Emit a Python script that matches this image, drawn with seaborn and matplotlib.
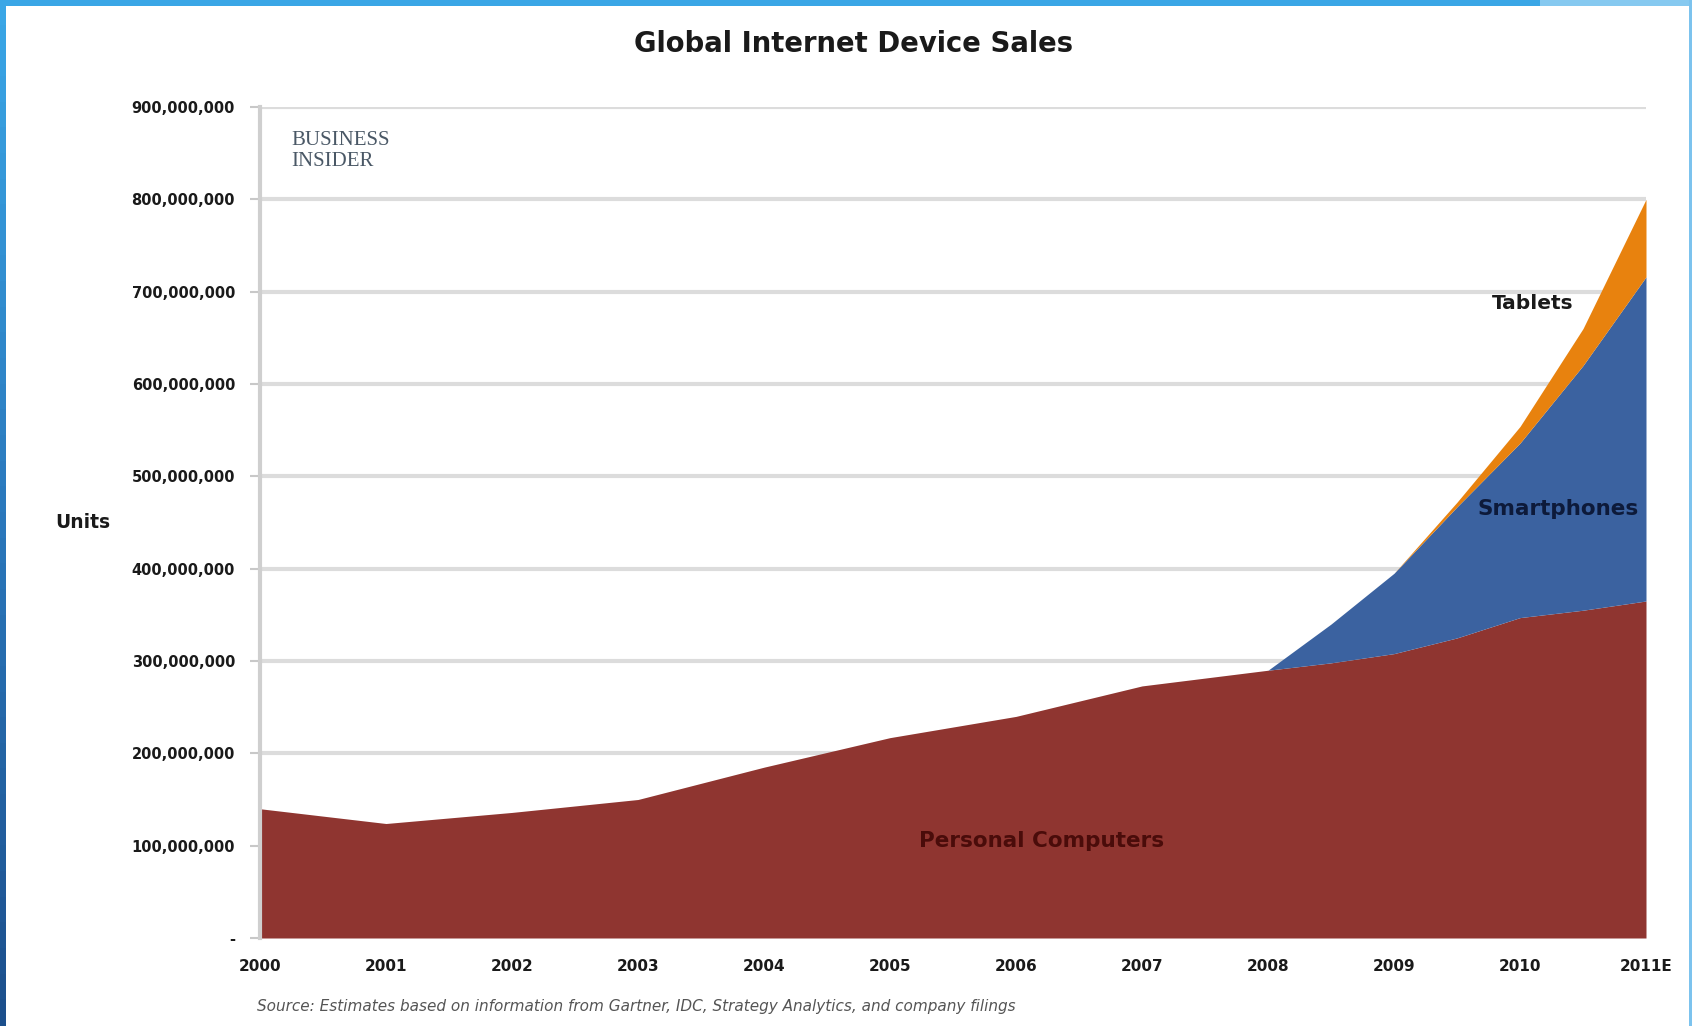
import matplotlib
matplotlib.use("Agg")
import matplotlib.pyplot as plt
from matplotlib.patches import Rectangle
import numpy as np
import pandas as pd
import seaborn as sns

# Units sold per period, in millions
years = [2000, 2001, 2002, 2003, 2004, 2005, 2006, 2007, 2008,
         2008.5, 2009, 2009.5, 2010, 2010.5, 2011]
personal_computers = [140, 124, 136, 150, 185, 217, 240, 273, 290,
                      298, 308, 325, 347, 355, 365]
smartphones = [0, 0, 0, 0, 0, 0, 0, 0, 0,
               42, 87, 142, 189, 265, 351]
tablets = [0, 0, 0, 0, 0, 0, 0, 0, 0,
           0, 0, 5, 18, 40, 84]

series_names = ["Personal Computers", "Smartphones", "Tablets"]
series_colors = ["#8f3530", "#3b62a0", "#e8820e"]

x_ticks = [2000, 2001, 2002, 2003, 2004, 2005, 2006, 2007, 2008, 2009, 2010, 2011]
x_tick_labels = ["2000", "2001", "2002", "2003", "2004", "2005", "2006",
                 "2007", "2008", "2009", "2010", "2011E"]
y_ticks = [0, 100e6, 200e6, 300e6, 400e6, 500e6, 600e6, 700e6, 800e6, 900e6]
y_tick_labels = ["-", "100,000,000", "200,000,000", "300,000,000", "400,000,000",
                 "500,000,000", "600,000,000", "700,000,000", "800,000,000",
                 "900,000,000"]

df = pd.DataFrame({
    "year": years,
    "Personal Computers": np.array(personal_computers) * 1e6,
    "Smartphones": np.array(smartphones) * 1e6,
    "Tablets": np.array(tablets) * 1e6,
})

sns.set_theme(style="white")
plt.rcParams["font.family"] = ["DejaVu Sans"]

W, H = 1692, 1026
fig = plt.figure(figsize=(W / 100, H / 100), dpi=100)
fig.patch.set_facecolor("white")

# slide frame
fig.patches.append(Rectangle((0, 1 - 6 / H), 1540 / W, 6 / H, transform=fig.transFigure,
                             facecolor="#3aa6e6", edgecolor="none", zorder=0))
fig.patches.append(Rectangle((1540 / W, 1 - 6 / H), 1 - 1540 / W, 6 / H, transform=fig.transFigure,
                             facecolor="#86c9f0", edgecolor="none", zorder=0))
n_strip = 40
left_cols = sns.blend_palette(["#3aa6e6", "#2a78bc", "#1c4f8c"], n_colors=n_strip)
for i, c in enumerate(left_cols):
    y0 = 1 - (i + 1) / n_strip
    fig.patches.append(Rectangle((0, y0), 6 / W, 1 / n_strip + 0.001, transform=fig.transFigure,
                                 facecolor=c, edgecolor="none", zorder=0))
fig.patches.append(Rectangle((1 - 3 / W, 0), 3 / W, 1, transform=fig.transFigure,
                             facecolor="#7cc3ee", edgecolor="none", zorder=0))

ax = fig.add_axes([260 / W, 1 - 938 / H, (1646 - 260) / W, (938 - 107) / H])
ax.stackplot(df["year"], df["Personal Computers"], df["Smartphones"], df["Tablets"],
             colors=series_colors, labels=series_names, linewidth=0, zorder=2)

ax.set_xlim(2000, 2011)
ax.set_ylim(0, 900e6)
ax.set_xticks(x_ticks)
ax.set_xticklabels(x_tick_labels)
ax.set_yticks(y_ticks)
ax.set_yticklabels(y_tick_labels)
ax.tick_params(axis="y", length=7, width=1.5, color="#c8c8c8", pad=11,
               labelsize=10.5, left=True)
ax.tick_params(axis="x", length=0, pad=15, labelsize=11)
for lbl in ax.get_xticklabels() + ax.get_yticklabels():
    lbl.set_fontweight("bold")
    lbl.set_color("#1a1a1a")

ax.yaxis.grid(True, color="#dcdcdc", linewidth=3, zorder=0)
ax.xaxis.grid(False)
ax.set_axisbelow(True)
sns.despine(ax=ax, top=True, right=True, bottom=True, left=False)
ax.spines["left"].set_color("#cfcfcf")
ax.spines["left"].set_linewidth(3)
ax.spines["left"].set_zorder(3)
ax.set_facecolor("white")

# series labels inside the areas
ax.text(2006.2, 105e6, "Personal Computers", ha="center", va="center",
        fontsize=15.5, fontweight="bold", color="#4a0c0a", zorder=4)
ax.text(2010.3, 465e6, "Smartphones", ha="center", va="center",
        fontsize=15.5, fontweight="bold", color="#0d1a3a", zorder=4)
ax.text(2010.1, 687e6, "Tablets", ha="center", va="center",
        fontsize=14.5, fontweight="bold", color="#1a1a1a", zorder=4)

# title, axis label, source and masthead
fig.text(853 / W, 1 - 44 / H, "Global Internet Device Sales", ha="center", va="center",
         fontsize=19.8, fontweight="bold", color="#1a1a1a")
fig.text(83 / W, 1 - 523 / H, "Units", ha="center", va="center",
         fontsize=13.5, fontweight="bold", color="#1a1a1a")
fig.text(257 / W, 1 - 1006 / H,
         "Source: Estimates based on information from Gartner, IDC, Strategy Analytics, and company filings",
         ha="left", va="center", fontsize=11, style="italic", color="#555555")
fig.text(291 / W, 1 - 151 / H, "BUSINESS\nINSIDER", ha="left", va="center",
         fontsize=15, family=["Liberation Serif", "DejaVu Serif"], color="#4a5866",
         linespacing=1.15)

fig.savefig("out.png", dpi=100, facecolor=fig.get_facecolor())
